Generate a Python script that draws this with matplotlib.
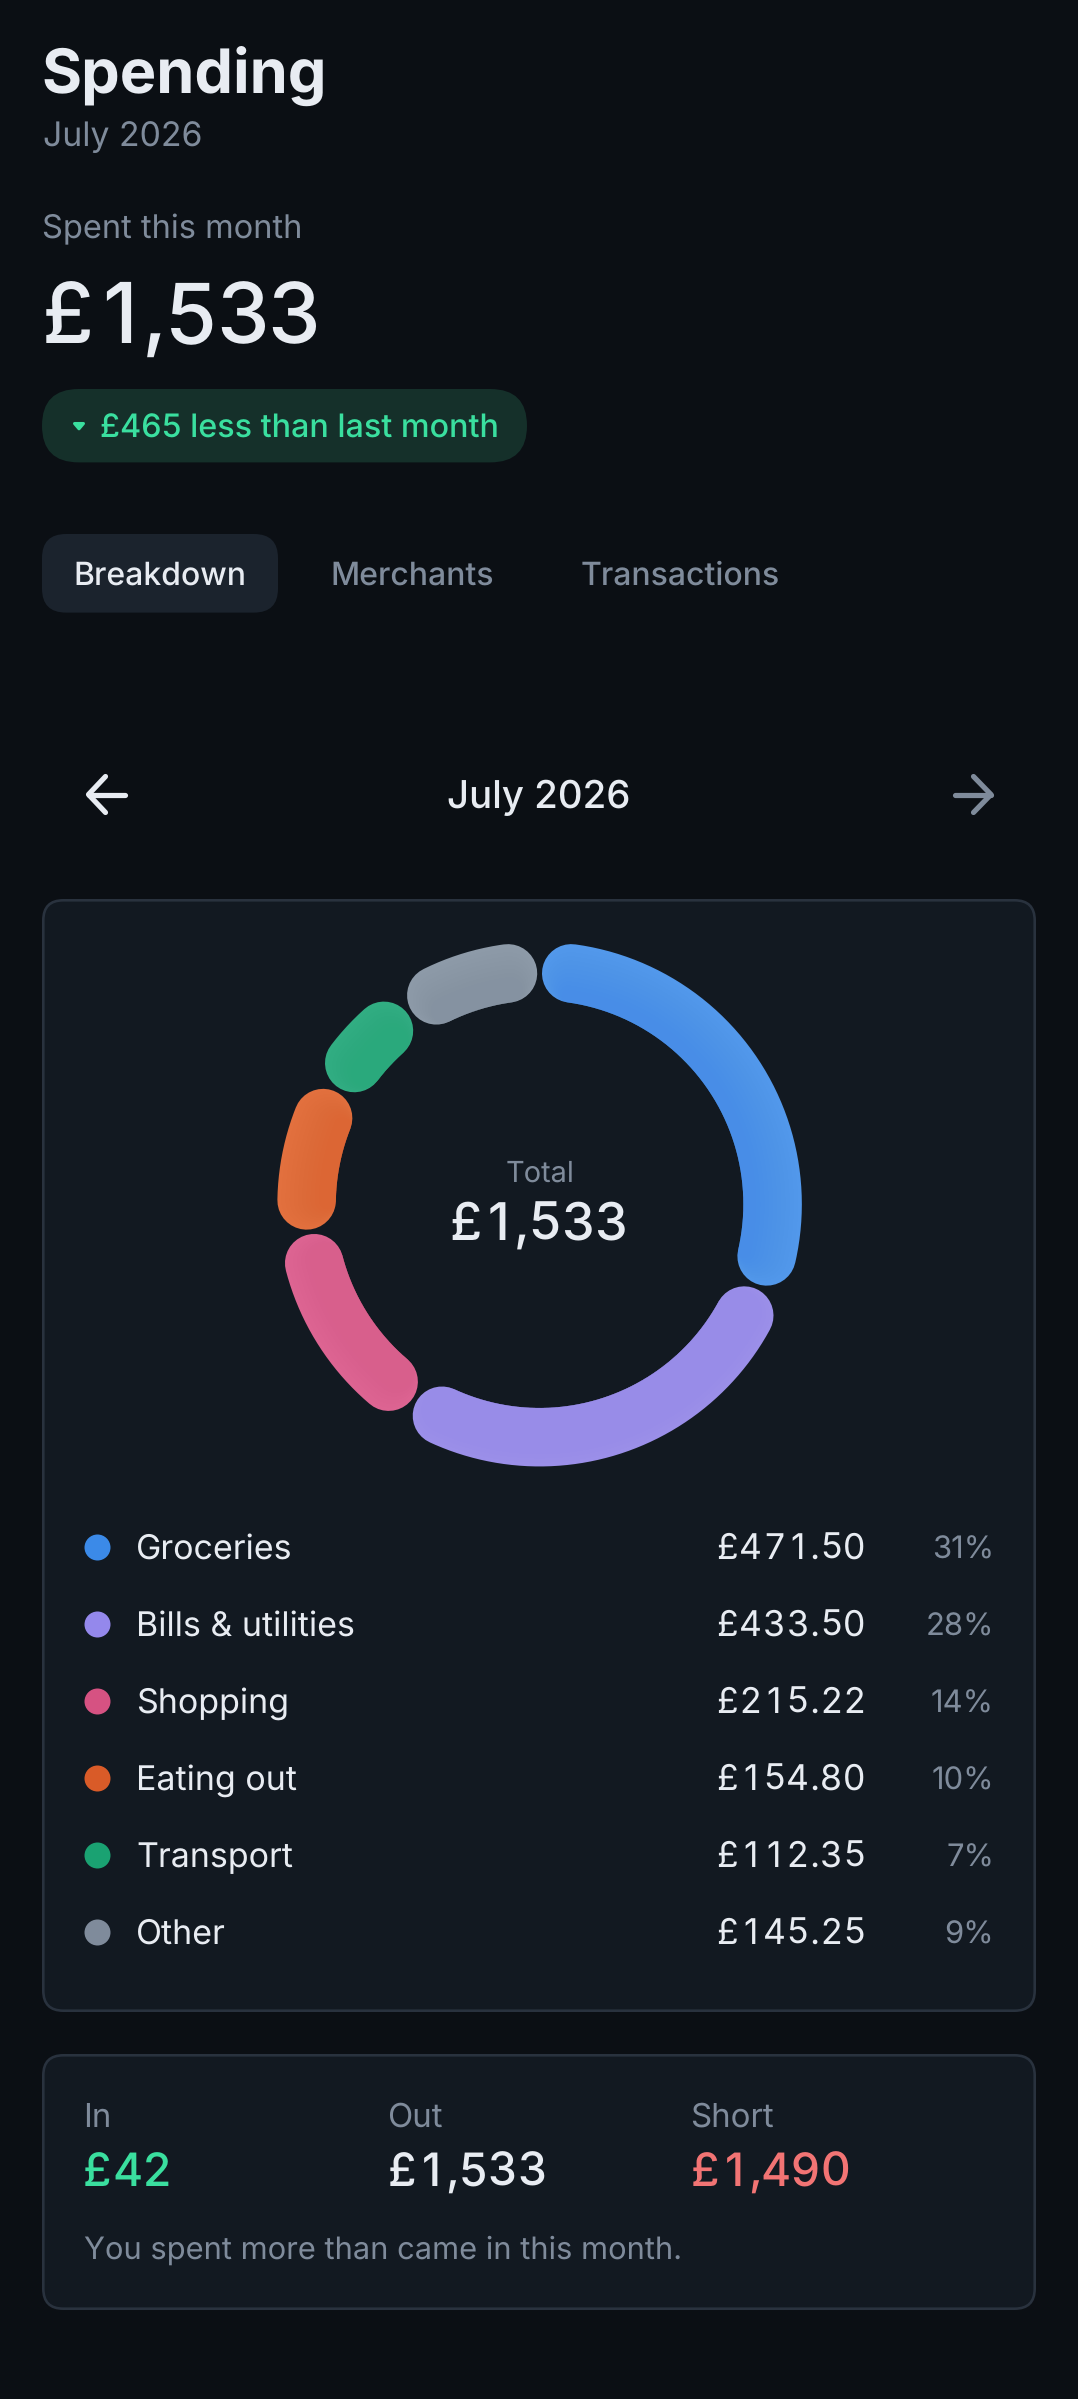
import numpy as np
import matplotlib

matplotlib.use("Agg")

import matplotlib.pyplot as plt
from matplotlib.patches import FancyBboxPatch
from matplotlib.text import Text

W, H = 1078, 2399

# data
categories = ["Groceries", "Bills & utilities", "Shopping", "Eating out", "Transport", "Other"]
amounts = [471.50, 433.50, 215.22, 154.80, 112.35, 145.25]
amount_labels = ["£471.50", "£433.50", "£215.22", "£154.80", "£112.35", "£145.25"]
percent_labels = ["31%", "28%", "14%", "10%", "7%", "9%"]
dot_colors = ["#3B8AE8", "#9488EC", "#D65282", "#D95B28", "#1AA272", "#7F8B9B"]
ring_outer = ["#5298EB", "#9B8FE9", "#DD6492", "#E2703E", "#31AD82", "#8D9AA8"]
ring_inner = ["#488DE7", "#988CE8", "#D85F8C", "#DC6634", "#2AA97C", "#8592A1"]
tabs = ["Breakdown", "Merchants", "Transactions"]
summary_labels = ["In", "Out", "Short"]
summary_values = ["£42", "£1,533", "£1,490"]

BG = "#0B0F14"
CARD = "#121921"
BORDER = "#29323E"
WHITE = "#E8ECF2"
GREY = "#7F8B9B"
GREEN = "#3ADF9F"
RED = "#F27474"

plt.rcParams["font.family"] = ["Inter", "DejaVu Sans"]
plt.rcParams["text.hinting"] = "no_hinting"
plt.rcParams["text.hinting_factor"] = 1

fig = plt.figure(figsize=(W / 100, H / 100), dpi=100, facecolor=BG)
ax = fig.add_axes([0, 0, 1, 1])
ax.set_xlim(0, W)
ax.set_ylim(H, 0)
ax.axis("off")


def label(x, y, s, px, color=WHITE, weight="normal", ha="left"):
    # y is the baseline in pixels, px the font size in pixels
    ax.text(x, y, s, fontsize=px * 0.72, color=color, fontweight=weight, ha=ha, va="baseline")


class TabularText(Text):
    """One string, drawn with tabular figures (Inter's default figures are proportional)."""

    def __init__(self, x, y, s, pitch, punct, **kw):
        super().__init__(x, y, s, **kw)
        self.pitch = pitch
        self.punct = punct

    def draw(self, renderer):
        x, y = self.get_position()
        for ch in self.get_text():
            cell = self.punct if ch in ",." else self.pitch
            t = Text(x + cell / 2, y, ch, ha="center", va="baseline", color=self.get_color(),
                     fontproperties=self.get_fontproperties())
            t.set_figure(self.get_figure())
            t.set_transform(self.get_transform())
            t.draw(renderer)
            x += cell


def tabular(x, y, s, px, pitch, punct, color=WHITE, weight="normal", ha="left"):
    total = sum(punct if ch in ",." else pitch for ch in s)
    if ha == "right":
        x -= total
    elif ha == "center":
        x -= total / 2
    ax.add_artist(TabularText(x, y, s, pitch, punct, fontsize=px * 0.72, color=color,
                              fontweight=weight))


def box(x0, y0, x1, y1, radius, face, edge="none", lw=0):
    ax.add_patch(FancyBboxPatch((x0, y0), x1 - x0, y1 - y0,
                                boxstyle=f"round,pad=0,rounding_size={radius}",
                                fc=face, ec=edge, lw=lw * 0.72))


# header
label(41.5, 93, "Spending", 61.3, weight="bold")
label(43, 145.7, "July 2026", 33.8, GREY)
label(42.5, 238, "Spent this month", 32.6, GREY)
tabular(41.8, 343, "£1,533", 84, 51.7, 19.5, weight="medium")

box(42, 389, 527, 462.4, 36.7, "#15302A")
ax.fill([74.5, 83.5, 79], [423.5, 423.5, 428.8], color=GREEN, ec=GREEN, lw=2.2, joinstyle="round")
label(100.5, 438, "£465 less than last month", 32.3, GREEN, weight="medium")

# tabs
box(42, 534, 278, 612.6, 24, "#1B232D")
label(73, 585, tabs[0], 32, WHITE, weight="medium")
label(330.5, 585, tabs[1], 32, GREY, weight="medium")
label(580.5, 585, tabs[2], 32, GREY, weight="medium")

# month navigation
label(539, 808, "July 2026", 38.4, WHITE, weight="medium", ha="center")
for xs, c in [((105.5, 88.5, 105.5), WHITE), ((973.5, 991, 973.5), GREY)]:
    ax.plot(xs, (776.5, 794.5, 812.5), color=c, lw=5.2 * 0.72, solid_capstyle="round",
            solid_joinstyle="round")
ax.plot((88.5, 125), (794.5, 794.5), color=WHITE, lw=5.2 * 0.72, solid_capstyle="round")
ax.plot((955, 991), (794.5, 794.5), color=GREY, lw=5.2 * 0.72, solid_capstyle="round")

# cards
box(43.3, 900.3, 1034.7, 2010.7, 20, CARD, BORDER, 2.6)
box(43.3, 2055.3, 1034.7, 2308.7, 20, CARD, BORDER, 2.6)

# donut, r is in pixels
CX, CY, RMAX = 539.6, 1204.2, 300
RING_R, RING_W = 233, 58.5
INSET = np.radians(7.8)
pol = fig.add_axes([(CX - RMAX) / W, 1 - (CY + RMAX) / H, 2 * RMAX / W, 2 * RMAX / H],
                   projection="polar")
pol.set_theta_zero_location("N")
pol.set_theta_direction(-1)
pol.set_rlim(0, RMAX)
pol.axis("off")
pol.patch.set_alpha(0)

edges = np.cumsum([0] + amounts) / sum(amounts) * 2 * np.pi
N_SHADE = 14
for i in range(len(amounts)):
    th = np.linspace(edges[i] + INSET, edges[i + 1] - INSET, 200)
    pol.plot(th, np.full_like(th, RING_R), color=ring_outer[i], lw=RING_W * 0.72,
             solid_capstyle="round")
    # shade towards the inside of the ring with strokes hugging the inner edge
    for k in range(1, N_SHADE):
        d = RING_W / 2 * k / N_SHADE
        pol.plot(th, np.full_like(th, RING_R - d), color=ring_inner[i], lw=(RING_W - 2 * d) * 0.72,
                 solid_capstyle="round", alpha=0.08)

label(539.6, 1182, "Total", 29, GREY, ha="center")
tabular(538, 1239.5, "£1,533", 52, 32.8, 13, weight="medium", ha="center")

# legend rows
row_y = [1547, 1624, 1701, 1778, 1855, 1932]
for i, name in enumerate(categories):
    ax.scatter([97], [row_y[i]], s=(26 * 0.72) ** 2, color=dot_colors[i], lw=0)
    label(136, row_y[i] + 12, name, 34)
    tabular(866.3, row_y[i] + 12, amount_labels[i], 35.5, 23.5, 10, ha="right")
    label(994, row_y[i] + 12, percent_labels[i], 31, GREY, ha="right")

# summary card
summary_x = [83.5, 387.5, 690.5]
value_x = [82.5, 387, 690]
summary_colors = [GREEN, WHITE, RED]
for i in range(3):
    label(summary_x[i], 2126.7, summary_labels[i], 33, GREY)
    tabular(value_x[i], 2186, summary_values[i], 46, 29.7, 11.2, summary_colors[i], weight="medium")
label(84, 2259, "You spent more than came in this month.", 30.9, GREY)

fig.savefig("out.png", dpi=100, facecolor=BG)
